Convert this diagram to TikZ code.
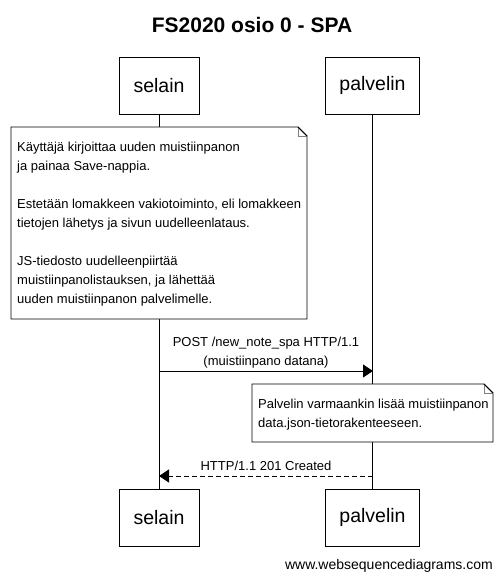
\documentclass[tikz,border=0pt]{standalone}
\usepackage{fontspec}
\setmainfont{Liberation Sans}
\usetikzlibrary{arrows.meta}
\begin{document}
\begin{tikzpicture}[x=1pt,y=-1pt,
  actor/.style={draw,line width=0.8pt,minimum width=80pt,minimum height=57pt,inner sep=0pt,font=\fontsize{19.5}{22}\selectfont},
  txt/.style={font=\fontsize{13}{19}\selectfont,inner sep=0pt},
  lifeline/.style={line width=0.8pt},
  msg/.style={line width=0.8pt,-{Triangle[length=10pt,width=13pt]}},
  reply/.style={msg,dash pattern=on 5pt off 3pt},
  notebox/.style={draw,line width=0.8pt,fill=white},
  fold/.style={draw=gray,line width=0.8pt}]
\useasboundingbox (0,0) rectangle (502,580);
\node[font=\bfseries\fontsize{21}{24}\selectfont] (title) at (252,25) {FS2020 osio 0 - SPA};
\node[actor] (s1) at (159,85.5) {selain};
\node[actor,minimum width=94pt] (p1) at (372.5,85.5) {palvelin};
\node[actor] (s2) at (159,517.5) {selain};
\node[actor,minimum width=94pt] (p2) at (372.5,517.5) {palvelin};
\draw[lifeline] (s1.south) -- (s2.north);
\draw[lifeline] (p1.south) -- (p2.north);
% note 1
\filldraw[notebox] (11,127) -- (298,127) -- (307,136) -- (307,319) -- (11,319) -- cycle;
\draw[fold] (298,127) -- (298,136) -- (307,136);
\draw[line width=0.8pt] (298,127) -- (307,136);
\node[txt,anchor=north west,align=left] (note1) at (17,142) {Käyttäjä kirjoittaa uuden muistiinpanon\\ja painaa Save-nappia.\\[19pt]Estetään lomakkeen vakiotoiminto, eli lomakkeen\\tietojen lähetys ja sivun uudelleenlataus.\\[19pt]JS-tiedosto uudelleenpiirtää\\muistiinpanolistauksen, ja lähettää\\uuden muistiinpanon palvelimelle.};
% message 1
\coordinate (m1s) at (159,371);
\coordinate (m1e) at (373,371);
\draw[msg] (m1s) -- (m1e);
\node[txt,align=center] (l1) at (266,352.5) {POST /new\_note\_spa HTTP/1.1\\(muistiinpano datana)};
% note 2
\filldraw[notebox] (252,384) -- (484,384) -- (493,393) -- (493,442) -- (252,442) -- cycle;
\draw[fold] (484,384) -- (484,393) -- (493,393);
\draw[line width=0.8pt] (484,384) -- (493,393);
\node[txt,anchor=north west,align=left] (note2) at (258,399) {Palvelin varmaankin lisää muistiinpanon\\data.json-tietorakenteeseen.};
% message 2
\coordinate (m2s) at (373,476);
\coordinate (m2e) at (159,476);
\draw[reply] (m2s) -- (m2e);
\node[txt] (l2) at (266,466) {HTTP/1.1 201 Created};
\node[txt,anchor=east,font=\fontsize{14}{16}\selectfont] (footer) at (493,566) {www.websequencediagrams.com};
\end{tikzpicture}
\end{document}
